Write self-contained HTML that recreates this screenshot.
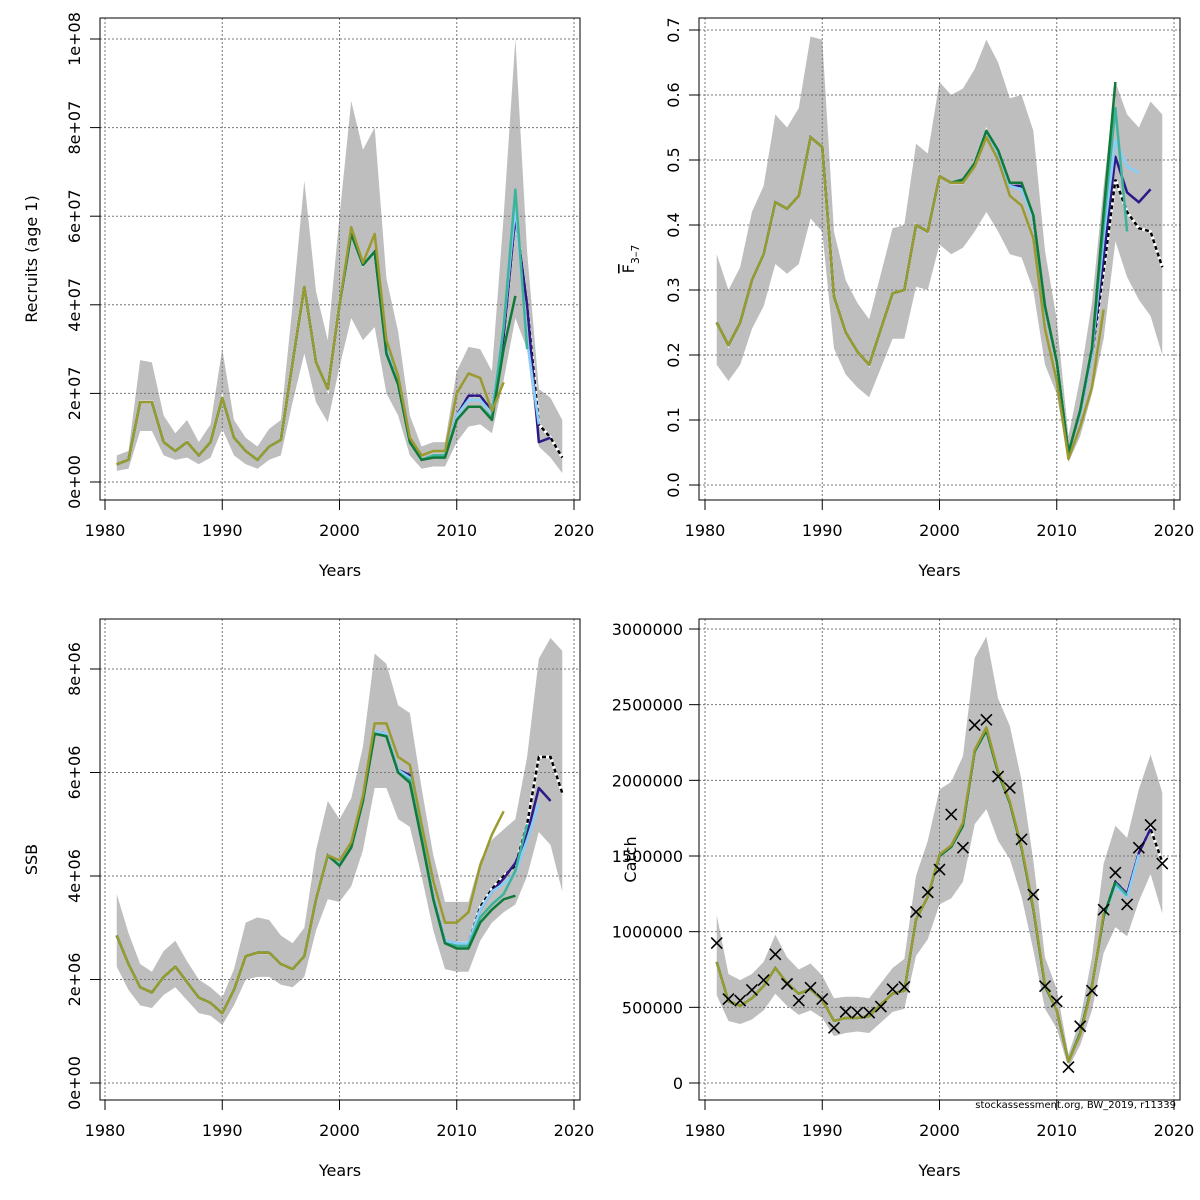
<!DOCTYPE html>
<html><head><meta charset="utf-8"><style>
html,body{margin:0;padding:0;background:#fff;}
svg{display:block;font-family:"DejaVu Sans","Liberation Sans",sans-serif;}
</style></head><body>
<svg id="chart" width="1200" height="1200" viewBox="0 0 1200 1200" xmlns="http://www.w3.org/2000/svg"></svg>
<script>
// ---------- data ----------
const years = [1981,1982,1983,1984,1985,1986,1987,1988,1989,1990,1991,1992,1993,1994,1995,1996,1997,1998,1999,2000,2001,2002,2003,2004,2005,2006,2007,2008,2009,2010,2011,2012,2013,2014,2015,2016,2017,2018,2019];
const xTicks = [1980,1990,2000,2010,2020];
const peelColors = ["#2e1a87","#87cefa","#3cb39a","#117a3a","#9a9a30"];
const peelNames = ["peel-2018","peel-2017","peel-2016","peel-2015","peel-2014"];

// Recruits (millions)
const recBase = [4,5,18,18,9,7,9,6,9,19,10,7,5,8,9.5,27,44,27,21,40,56,49,52,30,22,9,5,6,6,15,19.5,19.5,16,33,60,40,13,10,5.5];
const recUp = [6,7,27.5,27,15,11,14,9,13,30,14,10,8,12,14,40,68,43,32,60,86,75,80,46,34,15,8,9,9,25,30.5,30,25,60,100,52,21,19,14];
const recLo = [2.5,3,11.5,11.5,6,5,5.5,4,5.5,12,6,4,3,5,6,18,29,18,13.5,26,37,32,35,20,15,6,3,3.5,3.5,9,12.5,13,11,23,37,30,8,5.5,2];
const recP1 = [40,56,49,52,30,22,9,5,6,6,15,19.5,19.5,16,33,60,40,9,10];
const recP2 = [40,56,49,52,30,22,9,5,6,6,15,18.5,18.5,15.5,35,62,32,13];
const recP3 = [40,56,49,52,29,22,9,5,6,6,14,17,17,14.5,35,66,30];
const recP4 = [40,56,49,52,29,22,9,5,5.5,5.5,14,17,17,14,30,42];
const recP5 = [40,57.5,49.5,56,32,24,10,6,7,7,20,24.5,23.5,16,22.5];

// F bar 3-7
const fBase = [.25,.215,.25,.315,.355,.435,.425,.445,.535,.52,.29,.235,.205,.185,.24,.295,.3,.4,.39,.475,.465,.465,.495,.545,.51,.46,.46,.41,.27,.19,.05,.11,.2,.33,.47,.42,.395,.39,.335];
const fUp = [.355,.3,.335,.42,.46,.57,.55,.58,.69,.685,.39,.315,.28,.255,.325,.395,.4,.525,.51,.62,.6,.61,.64,.685,.65,.595,.6,.545,.36,.255,.075,.165,.28,.46,.62,.57,.55,.59,.57];
const fLo = [.185,.16,.185,.24,.275,.34,.325,.34,.41,.39,.21,.17,.15,.135,.18,.225,.225,.305,.3,.37,.355,.365,.39,.42,.39,.355,.35,.3,.185,.14,.035,.075,.14,.225,.375,.32,.285,.26,.2];
const fP1 = [.475,.465,.465,.495,.545,.51,.46,.46,.41,.27,.19,.05,.11,.2,.35,.505,.45,.435,.455];
const fP2 = [.475,.465,.465,.495,.545,.51,.46,.455,.41,.27,.19,.05,.11,.2,.38,.53,.49,.48];
const fP3 = [.475,.465,.47,.495,.545,.515,.465,.465,.415,.275,.19,.05,.115,.21,.4,.58,.39];
const fP4 = [.475,.465,.47,.495,.545,.515,.465,.465,.415,.275,.19,.05,.115,.21,.42,.62];
const fP5 = [.475,.465,.465,.49,.535,.5,.445,.43,.38,.24,.16,.04,.09,.15,.27];

// SSB (millions)
const ssbBase = [2.85,2.3,1.85,1.75,2.05,2.25,1.95,1.65,1.55,1.35,1.8,2.45,2.52,2.52,2.3,2.2,2.45,3.55,4.4,4.25,4.6,5.5,6.8,6.75,6.05,5.9,4.8,3.6,2.75,2.7,2.7,3.4,3.75,4.0,4.2,5.0,6.3,6.3,5.6];
const ssbUp = [3.65,2.9,2.3,2.15,2.55,2.75,2.35,2.0,1.85,1.65,2.2,3.1,3.2,3.15,2.85,2.7,3.0,4.5,5.45,5.1,5.5,6.5,8.3,8.1,7.3,7.15,5.7,4.4,3.5,3.5,3.5,4.3,4.7,4.9,5.1,6.3,8.2,8.6,8.35];
const ssbLo = [2.25,1.8,1.5,1.45,1.7,1.85,1.6,1.35,1.3,1.12,1.5,2.0,2.05,2.05,1.9,1.85,2.05,2.95,3.55,3.5,3.8,4.5,5.7,5.7,5.1,4.95,4.0,2.95,2.2,2.15,2.15,2.75,3.1,3.3,3.45,4.0,4.85,4.6,3.7];
const ssbP1 = [4.25,4.6,5.5,6.8,6.75,6.05,5.95,4.8,3.6,2.75,2.7,2.7,3.35,3.7,3.95,4.25,4.8,5.7,5.45];
const ssbP2 = [4.25,4.6,5.5,6.8,6.75,6.05,5.9,4.8,3.6,2.75,2.7,2.7,3.35,3.7,3.85,4.05,4.7,5.4];
const ssbP3 = [4.2,4.55,5.45,6.75,6.7,6.0,5.85,4.75,3.55,2.7,2.65,2.65,3.2,3.45,3.65,4.1,5.0];
const ssbP4 = [4.2,4.55,5.45,6.75,6.7,6.0,5.8,4.7,3.55,2.7,2.6,2.6,3.1,3.35,3.55,3.62];
const ssbP5 = [4.3,4.65,5.55,6.95,6.95,6.3,6.15,5.0,3.9,3.1,3.1,3.3,4.2,4.8,5.25];

// Catch (thousands)
const catBase = [800,540,510,560,640,760,660,590,620,550,410,430,430,440,520,590,610,1080,1230,1500,1560,1700,2190,2330,2050,1850,1550,1150,640,480,140,330,640,1100,1330,1250,1520,1680,1460];
const catUp = [1110,720,680,720,800,980,830,750,790,710,560,570,570,560,660,760,820,1370,1600,1940,1990,2160,2810,2950,2540,2360,2000,1470,830,620,190,420,830,1450,1700,1620,1940,2170,1920];
const catLo = [580,410,390,420,480,590,510,450,480,430,310,330,340,330,400,470,490,840,950,1180,1220,1330,1710,1810,1600,1480,1230,880,490,360,100,250,480,860,1030,970,1200,1380,1120];
const catObs = [925,555,545,615,680,850,655,545,630,555,365,470,465,465,505,620,635,1130,1260,1410,1775,1555,2365,2400,2025,1950,1610,1245,640,540,105,375,610,1145,1390,1180,1555,1705,1450];
const catP1 = [1500,1560,1700,2190,2330,2050,1850,1550,1150,640,480,140,330,640,1100,1330,1250,1520,1680];
const catP2 = [1500,1560,1700,2190,2330,2050,1850,1550,1150,640,480,140,330,640,1100,1300,1230,1510];
const catP3 = [1500,1560,1700,2190,2330,2050,1850,1550,1150,640,480,140,330,640,1100,1320,1240];
const catP4 = [1500,1560,1700,2190,2330,2050,1850,1550,1150,640,480,140,330,640,1100,1330];
const catP5 = [1510,1570,1720,2200,2350,2060,1860,1560,1160,650,480,140,320,630,1120];

const recTicks = [0,20,40,60,80,100];
const recTickLabels = ["0e+00","2e+07","4e+07","6e+07","8e+07","1e+08"];
const fTicks = [0,.1,.2,.3,.4,.5,.6,.7];
const fTickLabels = ["0.0","0.1","0.2","0.3","0.4","0.5","0.6","0.7"];
const ssbTicks = [0,2,4,6,8];
const ssbTickLabels = ["0e+00","2e+06","4e+06","6e+06","8e+06"];
const catTicks = [0,500,1000,1500,2000,2500,3000];
const catTickLabels = ["0","500000","1000000","1500000","2000000","2500000","3000000"];

// ---------- drawing ----------
const NS = "http://www.w3.org/2000/svg";
const svg = document.getElementById("chart");
function mk(tag, attrs, parent){
  const e = document.createElementNS(NS, tag);
  for (const k in attrs) e.setAttribute(k, attrs[k]);
  (parent||svg).appendChild(e);
  return e;
}
const HIST = 19; // years before 2000 shared by all peels

function panel(o){
  const g = mk("g", {});
  
  
  const X = yr => o.x0 + (yr - 1980) * (o.x1 - o.x0) / 40;
  const Y = v => o.yz + (v - 0) * (o.yt - o.yz) / o.vt;
  // CI polygon
  let pts = years.map((yr,i)=>X(yr)+","+Y(o.up[i]));
  for (let i=years.length-1;i>=0;i--) pts.push(X(years[i])+","+Y(o.lo[i]));
  const ci = mk("polygon", {points:pts.join(" "), fill:"#bebebe", stroke:"none"}, g);
  
  
  // grid
  xTicks.forEach(t=>mk("line",{x1:X(t),x2:X(t),y1:o.by0,y2:o.by1,stroke:"#777","stroke-dasharray":"2,2","stroke-width":1},g));
  o.ticks.forEach(t=>mk("line",{x1:o.bx0,x2:o.bx1,y1:Y(t),y2:Y(t),stroke:"#777","stroke-dasharray":"2,2","stroke-width":1},g));
  // box
  const box = mk("rect",{x:o.bx0,y:o.by0,width:o.bx1-o.bx0,height:o.by1-o.by0,fill:"none",stroke:"#000","stroke-width":1},g);
  
  
  // x ticks
  xTicks.forEach(t=>{
    mk("line",{x1:X(t),x2:X(t),y1:o.by1,y2:o.by1+10,stroke:"#000"},g);
    const tx = mk("text",{x:X(t),y:o.by1+36,"text-anchor":"middle","font-size":16},g);
    tx.textContent = t;
    
    
  });
  // y ticks
  o.ticks.forEach((t,i)=>{
    mk("line",{x1:o.bx0-10,x2:o.bx0,y1:Y(t),y2:Y(t),stroke:"#000"},g);
    let tx;
    if (o.horiz) {
      tx = mk("text",{x:o.bx0-16,y:Y(t)+6,"text-anchor":"end","font-size":16},g);
    } else {
      const lx = o.bx0-20;
      tx = mk("text",{x:lx,y:Y(t),"text-anchor":"middle","font-size":16,transform:"rotate(-90 "+lx+" "+Y(t)+")"},g);
    }
    tx.textContent = o.labels[i];
    
    
  });
  // axis titles
  const xt = mk("text",{x:(o.bx0+o.bx1)/2,y:o.by1+76,"text-anchor":"middle","font-size":16},g);
  xt.textContent = "Years";
  
  
  const cy = (o.by0+o.by1)/2;
  const yt = mk("text",{x:o.ylx,y:cy,"text-anchor":"middle","font-size":16,transform:"rotate(-90 "+o.ylx+" "+cy+")"},g);
  if (o.fbar) {
    yt.innerHTML = '<tspan text-decoration="overline">F</tspan><tspan font-size="11" dy="5">3\u20137</tspan>';
  } else yt.textContent = o.ytitle;
  
  
  // base line
  const basePts = years.map((yr,i)=>X(yr)+","+Y(o.base[i])).join(" ");
  mk("polyline",{points:basePts,fill:"none",stroke:"#fff","stroke-width":3},g);
  const bl = mk("polyline",{points:basePts,fill:"none",stroke:"#000","stroke-width":2.5,"stroke-dasharray":"4,3"},g);
  
  
  // peels
  o.peels.forEach((tail,p)=>{
    const vals = o.base.slice(0,HIST).concat(tail);
    const pp = vals.map((v,i)=>X(years[i])+","+Y(v)).join(" ");
    const pl = mk("polyline",{points:pp,fill:"none",stroke:peelColors[p],"stroke-width":2.5,"stroke-linejoin":"round"},g);
    
    
  });
  // observations
  if (o.obs) {
    o.obs.forEach((v,i)=>{
      const cx = X(years[i]), cyy = Y(v), s = 5.5;
      const mg = mk("path",{d:`M${cx-s},${cyy-s}L${cx+s},${cyy+s}M${cx-s},${cyy+s}L${cx+s},${cyy-s}`,stroke:"#000","stroke-width":1.6,fill:"none"},g);
      
      
    });
  }
}

panel({name:"recruits-panel",x0:105,x1:574,bx0:100,bx1:580,by0:18,by1:500,yz:482,yt:39,vt:100,
  ticks:recTicks,labels:recTickLabels,ytitle:"Recruits (age 1)",ylx:37,
  base:recBase,up:recUp,lo:recLo,peels:[recP1,recP2,recP3,recP4,recP5]});
panel({name:"fbar-panel",x0:705,x1:1174,bx0:699,bx1:1180,by0:18,by1:500,yz:485,yt:30,vt:.7,
  ticks:fTicks,labels:fTickLabels,fbar:true,ylx:634,
  base:fBase,up:fUp,lo:fLo,peels:[fP1,fP2,fP3,fP4,fP5]});
panel({name:"ssb-panel",x0:105,x1:574,bx0:100,bx1:580,by0:619,by1:1100,yz:1083,yt:669,vt:8,
  ticks:ssbTicks,labels:ssbTickLabels,ytitle:"SSB",ylx:37,
  base:ssbBase,up:ssbUp,lo:ssbLo,peels:[ssbP1,ssbP2,ssbP3,ssbP4,ssbP5]});
panel({name:"catch-panel",x0:705,x1:1174,bx0:699,bx1:1180,by0:619,by1:1100,yz:1083,yt:629,vt:3000,
  ticks:catTicks,labels:catTickLabels,horiz:true,ytitle:"Catch",ylx:636,
  base:catBase,up:catUp,lo:catLo,obs:catObs,peels:[catP1,catP2,catP3,catP4,catP5]});

const foot = mk("text",{x:1176,y:1108,"text-anchor":"end","font-size":10});
foot.textContent = "stockassessment.org, BW_2019, r11339";


</script>
</body></html>
